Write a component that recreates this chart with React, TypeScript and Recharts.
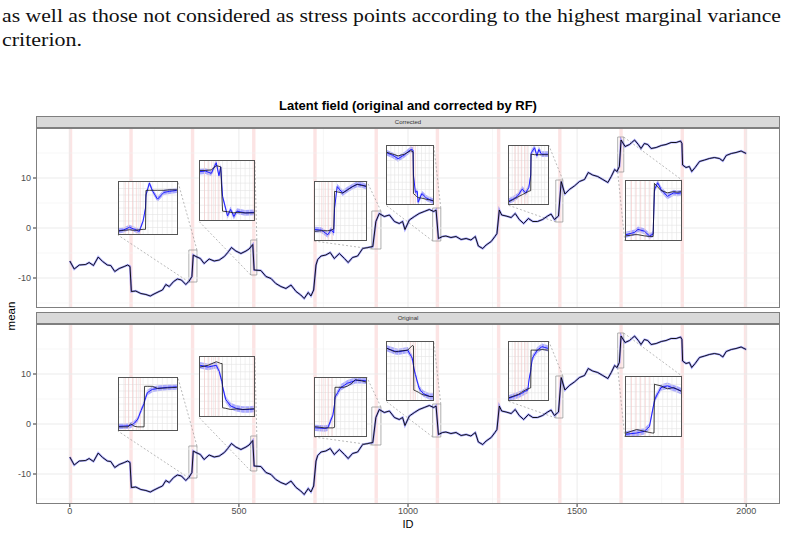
import React from 'react';
import {
  ComposedChart,
  Line,
  Area,
  XAxis,
  YAxis,
  ReferenceLine,
  ReferenceArea,
} from 'recharts';

// main latent field (same curve in both facets)
const ids = [
  0, 13, 28, 47, 57, 70, 84, 97, 111, 121,
  133, 146, 161, 171, 178, 182, 195, 210, 225, 238,
  249, 264, 274, 284, 294, 307, 318, 330, 343, 353,
  361, 365, 373, 386, 397, 412, 427, 442, 457, 467,
  478, 491, 506, 521, 530, 541, 545, 565, 580, 595,
  609, 624, 639, 654, 669, 683, 693, 705, 713, 721,
  728, 733, 743, 757, 770, 782, 797, 812, 823, 836,
  851, 866, 881, 896, 905, 915, 930, 945, 960, 974,
  984, 991, 1004, 1019, 1033, 1048, 1063, 1076, 1083, 1090,
  1102, 1112, 1127, 1142, 1157, 1172, 1186, 1199, 1208, 1221,
  1231, 1246, 1257, 1263, 1270, 1277, 1290, 1305, 1317, 1329,
  1342, 1356, 1369, 1383, 1398, 1413, 1423, 1433, 1445, 1453,
  1464, 1477, 1492, 1507, 1522, 1533, 1546, 1561, 1576, 1591,
  1601, 1611, 1618, 1625, 1630, 1642, 1655, 1670, 1681, 1689,
  1699, 1709, 1719, 1734, 1749, 1763, 1778, 1793, 1806, 1810,
  1812, 1822, 1832, 1839, 1849, 1862, 1877, 1891, 1906, 1921,
  1931, 1941, 1956, 1970, 1985, 2000,
];
const means = [
  -6.6, -8.2, -7.4, -7.3, -6.9, -7.5, -5.8, -6.7, -7.4, -7.5,
  -8.7, -8.1, -7.7, -7.4, -7.7, -12.7, -12.6, -13.1, -13.3, -13.6,
  -13.2, -12.7, -12.4, -11.3, -11.7, -10.7, -10.2, -10.4, -11.3, -10.6,
  -9.7, -5.4, -5.7, -6.1, -7.1, -6.2, -6.6, -6.4, -5.7, -4.9,
  -3.9, -4.6, -5.1, -4.6, -4.2, -3.3, -8.4, -8.5, -9.7, -10.1,
  -11.1, -11.7, -12.1, -11.4, -12.7, -13.4, -14.1, -12.9, -13.6, -12.4,
  -7.4, -6.3, -5.6, -5.4, -4.9, -6.1, -5.1, -6.1, -6.9, -5.9,
  -5.6, -4.1, -3.9, -3.7, 1.3, 2.9, 2.3, 2.6, 1.3, 0.9,
  1.3, -0.3, 1.6, 2.3, 2.9, 3.3, 3.7, 3.3, 3.6, -2.1,
  -1.7, -1.6, -1.9, -1.7, -2.3, -2.1, -2.4, -1.7, -3.6, -4.1,
  -3.4, -2.7, -1.7, -1.1, 3.6, 2.6, 2.4, 2.1, 2.9, 1.7,
  0.9, 1.9, 1.3, 1.3, 1.7, 2.4, 2.8, 1.7, 2.4, 9.3,
  6.8, 7.7, 8.4, 9.3, 9.7, 11.1, 10.6, 10.3, 9.7, 9.1,
  10.3, 11.7, 11.3, 12.3, 17.6, 16.3, 16.7, 17.6, 16.7, 15.9,
  16.9, 16.7, 15.9, 16.1, 16.5, 16.7, 17.1, 17.1, 17.4, 16.9,
  12.6, 12.1, 12.3, 11.3, 12.1, 13.3, 13.6, 13.9, 14.1, 13.9,
  13.4, 14.5, 14.9, 15.1, 15.4, 14.9,
];

const stressPoints = [2, 181, 363, 544, 725, 906, 1087, 1268, 1449, 1630, 1811, 1998];
const xTicks = [0, 500, 1000, 1500, 2000];
const xMinor = [250, 750, 1250, 1750];
const yTicks = [-10, 0, 10];
const yMinor = [-15, -5, 5, 15];
const facets = ['Corrected', 'Original'];

// magnified windows [idFrom, idTo, meanLow, meanHigh] and where their insets sit
const zoomRects = [
  [352, 376, -10.8, -4.4],
  [535, 553, -9.4, -2.4],
  [893, 920, -4.2, 3.4],
  [1073, 1097, -2.6, 4.0],
  [1437, 1458, 1.2, 9.6],
  [1620, 1638, 11.2, 18.2],
];
const insetBoxes = [
  [142, 319, -1.4, 9.4],
  [381, 547, 1.4, 13.6],
  [721, 878, -2.6, 9.4],
  [934, 1076, 4.6, 16.6],
  [1295, 1416, 4.6, 16.6],
  [1641, 1810, -2.6, 9.6],
];

// inset curves on the inset's own 0-12 (x) by 0-10 (y) scale
const corrX = [
  [0, 1, 2.2, 3.2, 4.2, 5.0, 5.5, 5.6, 6.3, 7.0, 8.0, 9.3, 10.5, 12],
  [0, 1.2, 2.5, 3.6, 4.2, 4.6, 5.0, 6.1, 6.8, 7.5, 8.2, 10, 12],
  [0, 1.5, 3, 3.8, 4.4, 4.6, 5.2, 6.5, 7.6, 8.8, 9.9, 11, 12],
  [0, 1.5, 2.9, 4.6, 6.2, 6.8, 6.9, 7.4, 7.9, 8.1, 9.1, 10.3, 12],
  [0, 1.4, 2.7, 4.1, 5.1, 6.1, 6.7, 6.8, 7.9, 8.6, 9.2, 10, 12],
  [0, 1.9, 2.6, 4.0, 5.1, 5.9, 6.2, 6.9, 7.6, 9.0, 10.4, 11.2, 12],
];
const corrBlack = [
  [0.6, 0.7, 0.8, 0.7, 0.8, 0.9, 0.9, 8.4, 8.4, 8.4, 8.4, 8.4, 8.5, 8.5],
  [8.4, 8.4, 8.5, 9.2, 9.1, 9.0, 1.5, 1.4, 1.3, 1.2, 1.3, 1.2, 1.2],
  [1.5, 1.6, 1.6, 1.7, 1.9, 8.4, 8.3, 8.1, 8.6, 9.2, 9.6, 9.4, 9.3],
  [8.9, 8.6, 8.3, 8.6, 9.2, 9.0, 1.8, 1.5, 1.2, 1.1, 1.0, 0.8, 0.6],
  [0.4, 0.8, 1.2, 1.6, 1.9, 2.2, 2.3, 8.6, 8.5, 8.5, 8.5, 8.5, 8.5],
  [0.7, 0.9, 0.9, 0.7, 0.6, 0.6, 9.6, 9.0, 8.4, 8.0, 8.2, 8.1, 8.2],
];
const corrBlue = [
  [0.6, 0.8, 1.3, 0.9, 0.5, 2.5, 5.0, 7.5, 9.8, 8.2, 6.7, 8.0, 8.2, 8.4],
  [8.2, 8.3, 7.9, 9.7, 7.5, 9.0, 4.0, 0.7, 1.8, 0.6, 1.5, 1.2, 1.3],
  [1.8, 1.7, 0.9, 1.8, 1.2, 5.5, 9.2, 8.1, 8.7, 9.2, 9.6, 9.5, 9.2],
  [8.8, 8.4, 7.8, 8.5, 9.4, 9.3, 5.0, 2.0, 2.2, 0.3, 1.8, 1.0, 0.5],
  [0.5, 0.9, 1.4, 2.6, 1.9, 2.8, 5.0, 8.8, 9.7, 8.3, 9.4, 8.6, 8.6],
  [0.9, 1.3, 1.8, 1.5, 0.7, 1.0, 8.5, 9.7, 8.6, 7.4, 8.0, 7.9, 8.0],
];
const origX = [
  [0, 1.9, 2.4, 3.2, 3.9, 4.6, 5.2, 5.3, 5.9, 6.9, 8.0, 10, 12],
  [0, 1.8, 3.6, 4.3, 4.6, 4.9, 5.0, 5.7, 6.8, 8, 9.5, 11, 12],
  [0, 2.3, 3.0, 4.2, 4.6, 4.7, 6.1, 6.8, 7.6, 8.5, 9.5, 11, 12],
  [0, 2.1, 2.9, 5.4, 6.6, 6.9, 7.0, 7.4, 8.3, 8.7, 9.5, 11.2, 12],
  [0, 1.5, 3.0, 3.8, 5.0, 5.8, 6.2, 6.7, 6.8, 7.2, 8.7, 10.2, 12],
  [0, 2.3, 4.0, 5.1, 5.8, 6.1, 6.2, 6.5, 7.6, 9.0, 10.4, 11.2, 12],
];
const origBlack = [
  [0.6, 0.6, 1.2, 0.7, 0.6, 0.6, 0.6, 8.4, 8.4, 8.4, 8.0, 8.1, 8.2],
  [8.3, 8.6, 9.2, 9.0, 8.9, 8.9, 1.4, 1.3, 1.1, 1.2, 1.1, 1.2, 1.2],
  [1.6, 1.4, 1.4, 1.4, 1.5, 8.4, 8.4, 8.4, 8.6, 9.0, 9.7, 9.5, 9.3],
  [8.9, 8.3, 8.4, 8.6, 9.4, 9.3, 1.7, 1.6, 1.3, 1.1, 0.9, 0.6, 0.6],
  [0.4, 0.7, 1.0, 1.3, 1.7, 1.9, 2.0, 2.1, 8.6, 8.6, 8.6, 8.7, 8.6],
  [0.5, 1.1, 0.8, 0.6, 0.5, 0.5, 8.8, 8.7, 8.5, 8.0, 8.2, 7.9, 7.6],
];
const origBlue = [
  [0.7, 0.8, 0.9, 1.3, 2.1, 3.8, 5.1, 5.6, 7.2, 7.8, 8.0, 8.2, 8.3],
  [8.6, 8.3, 8.6, 7.5, 6.5, 5.8, 5.0, 2.8, 1.7, 1.3, 1.1, 1.1, 1.2],
  [1.4, 1.3, 1.4, 3.6, 5.5, 6.7, 8.4, 8.7, 9.1, 9.3, 9.6, 9.6, 9.5],
  [8.9, 8.4, 8.3, 8.6, 7.2, 6.0, 5.5, 4.4, 2.2, 1.7, 1.1, 0.6, 0.6],
  [0.3, 0.6, 0.9, 1.1, 1.5, 1.7, 3.6, 5.0, 5.6, 7.2, 8.6, 9.2, 8.9],
  [0.3, 0.5, 0.8, 1.6, 4.4, 5.6, 6.0, 6.6, 8.2, 8.5, 8.1, 7.9, 7.6],
];
const insetPink = [
  [1.3, 2.0, 2.8, 3.6, 4.4],
  [1.0, 1.8, 2.6, 3.4, 4.2, 11.8],
  [1.6, 2.4, 3.2, 4.0],
  [6.2, 6.8, 7.4],
  [1.8, 2.8, 3.8, 4.8, 5.6],
  [1.2, 2.2, 3.2, 4.2, 5.2],
];
const insetGridX = [1, 2, 3, 4, 5, 6, 7, 8, 9, 10, 11];
const insetGridY = [1.25, 2.5, 3.75, 5, 6.25, 7.5, 8.75];

const X_DOMAIN = [-100, 2100];
const Y_DOMAIN = [-16, 20];
const PLOT_LEFT = 36;
const PLOT_RIGHT = 780;
const PLOT_H = 180;
const PANEL_TOPS = [128, 324];
const FONT = '"Liberation Sans", Arial, sans-serif';

const mainData = ids.map((id, i) => ({ id, mean: means[i] }));

const toPxX = (id: number) =>
  PLOT_LEFT + ((id - X_DOMAIN[0]) / (X_DOMAIN[1] - X_DOMAIN[0])) * (PLOT_RIGHT - PLOT_LEFT);
const toPxY = (v: number, top: number) =>
  top + ((Y_DOMAIN[1] - v) / (Y_DOMAIN[1] - Y_DOMAIN[0])) * PLOT_H;

function Inset({ k, panel }: { k: number; panel: number }) {
  const box = insetBoxes[k];
  const top = PANEL_TOPS[panel];
  const xs = panel === 0 ? corrX[k] : origX[k];
  const black = panel === 0 ? corrBlack[k] : origBlack[k];
  const blue = panel === 0 ? corrBlue[k] : origBlue[k];
  const half = panel === 0 ? 0.5 : 0.55;
  const data = xs.map((x, i) => ({
    x,
    black: black[i],
    blue: blue[i],
    band: [blue[i] - half, blue[i] + half],
  }));
  const left = toPxX(box[0]);
  const w = toPxX(box[1]) - left;
  const t = toPxY(box[3], top);
  const h = toPxY(box[2], top) - t;
  return (
    <div
      style={{
        position: 'absolute',
        left,
        top: t,
        width: w,
        height: h,
        background: '#fff',
        border: '1px solid #555',
        boxSizing: 'border-box',
      }}
    >
      <ComposedChart width={w - 2} height={h - 2} data={data} margin={{ top: 0, right: 0, bottom: 0, left: 0 }}>
        <XAxis type="number" dataKey="x" domain={[0, 12]} hide />
        <YAxis type="number" domain={[0, 10]} hide allowDataOverflow />
        {insetGridX.map((g) => (
          <ReferenceLine key={'gx' + g} x={g} stroke="#E4E4E4" strokeWidth={0.6} />
        ))}
        {insetGridY.map((g) => (
          <ReferenceLine key={'gy' + g} y={g} stroke="#E4E4E4" strokeWidth={0.6} />
        ))}
        {insetPink[k].map((p) => (
          <ReferenceLine key={'p' + p} x={p} stroke="#F4C4C4" strokeWidth={0.6} />
        ))}
        <Area type="linear" dataKey="band" stroke="none" fill="#6464FF" fillOpacity={0.55} isAnimationActive={false} />
        <Line type="linear" dataKey="blue" stroke="#1E1EFF" strokeWidth={1} dot={false} isAnimationActive={false} />
        <Line type="linear" dataKey="black" stroke="#111" strokeWidth={0.8} dot={false} isAnimationActive={false} />
      </ComposedChart>
    </div>
  );
}

function Panel({ panel }: { panel: number }) {
  const showX = panel === 1;
  const top = PANEL_TOPS[panel];
  return (
    <div style={{ position: 'absolute', left: 0, top }}>
      <ComposedChart
        width={788}
        height={PLOT_H + (showX ? 24 : 0)}
        data={mainData}
        margin={{ top: 0, right: 8, bottom: 0, left: 0 }}
      >
        <XAxis
          type="number"
          dataKey="id"
          domain={X_DOMAIN}
          ticks={xTicks}
          hide={!showX}
          height={24}
          axisLine={false}
          tickSize={3}
          tickMargin={1}
          tickLine={{ stroke: '#333' }}
          tick={{ fontSize: 9, fill: '#4D4D4D', fontFamily: FONT }}
          allowDataOverflow
        />
        <YAxis
          type="number"
          domain={Y_DOMAIN}
          ticks={yTicks}
          width={36}
          axisLine={false}
          tickSize={3}
          tickMargin={2}
          tickLine={{ stroke: '#333' }}
          tick={{ fontSize: 9, fill: '#4D4D4D', fontFamily: FONT }}
          allowDataOverflow
        />
        {xMinor.map((v) => (
          <ReferenceLine key={'xm' + v} x={v} stroke="#F2F2F2" strokeWidth={0.6} />
        ))}
        {yMinor.map((v) => (
          <ReferenceLine key={'ym' + v} y={v} stroke="#F2F2F2" strokeWidth={0.6} />
        ))}
        {xTicks.map((v) => (
          <ReferenceLine key={'xM' + v} x={v} stroke="#EBEBEB" strokeWidth={1} />
        ))}
        {yTicks.map((v) => (
          <ReferenceLine key={'yM' + v} y={v} stroke="#EBEBEB" strokeWidth={1} />
        ))}
        {stressPoints.map((s) => (
          <ReferenceArea key={'s' + s} x1={s - 5} x2={s + 5} fill="#F9C9C9" fillOpacity={0.5} stroke="none" />
        ))}
        <Line type="linear" dataKey="mean" stroke="#5050FF" strokeOpacity={0.5} strokeWidth={2.2} dot={false} isAnimationActive={false} />
        <Line type="linear" dataKey="mean" stroke="#000" strokeWidth={0.9} dot={false} isAnimationActive={false} />
        {zoomRects.map((r, k) => (
          <ReferenceArea
            key={'r' + k}
            x1={r[0]}
            x2={r[1]}
            y1={r[2]}
            y2={r[3]}
            fill="none"
            stroke="#8C8C8C"
            strokeWidth={0.7}
          />
        ))}
        {zoomRects.map((r, k) => (
          <ReferenceLine
            key={'ctr' + k}
            segment={[
              { x: r[1], y: r[3] },
              { x: insetBoxes[k][1], y: insetBoxes[k][3] },
            ]}
            stroke="#8C8C8C"
            strokeWidth={0.6}
            strokeDasharray="2 2"
          />
        ))}
        {zoomRects.map((r, k) => (
          <ReferenceLine
            key={'cbl' + k}
            segment={[
              { x: r[0], y: r[2] },
              { x: insetBoxes[k][0], y: insetBoxes[k][2] },
            ]}
            stroke="#8C8C8C"
            strokeWidth={0.6}
            strokeDasharray="2 2"
          />
        ))}
      </ComposedChart>
      <div
        style={{
          position: 'absolute',
          left: PLOT_LEFT,
          top: 0,
          width: PLOT_RIGHT - PLOT_LEFT,
          height: PLOT_H,
          border: '1px solid #7F7F7F',
          boxSizing: 'border-box',
          pointerEvents: 'none',
        }}
      />
      <div
        style={{
          position: 'absolute',
          left: PLOT_LEFT,
          top: -12,
          width: PLOT_RIGHT - PLOT_LEFT,
          height: 12,
          background: '#D9D9D9',
          border: '1px solid #7F7F7F',
          boxSizing: 'border-box',
          fontSize: 6,
          lineHeight: '10px',
          textAlign: 'center',
          color: '#333',
          fontFamily: FONT,
        }}
      >
        {facets[panel]}
      </div>
    </div>
  );
}

export default function App() {
  return (
    <div
      style={{
        position: 'absolute',
        left: 0,
        top: 0,
        width: 788,
        height: 535,
        background: '#fff',
        overflow: 'hidden',
        fontFamily: FONT,
      }}
    >
      <svg width={788} height={535} style={{ position: 'absolute', left: 0, top: 0 }}>
        <text
          x={2}
          y={22}
          fontFamily='"Liberation Serif", "DejaVu Serif", serif'
          fontSize={19.5}
          textLength={779}
          lengthAdjust="spacingAndGlyphs"
          fill="#111"
        >
          as well as those not considered as stress points according to the highest marginal variance
        </text>
        <text
          x={2}
          y={46}
          fontFamily='"Liberation Serif", "DejaVu Serif", serif'
          fontSize={19.5}
          textLength={80}
          lengthAdjust="spacingAndGlyphs"
          fill="#111"
        >
          criterion.
        </text>
        <text x={408} y={110} textAnchor="middle" fontFamily={FONT} fontWeight="bold" fontSize={13} fill="#000">
          Latent field (original and corrected by RF)
        </text>
        <text
          x={15}
          y={316}
          transform="rotate(-90, 15, 316)"
          textAnchor="middle"
          fontFamily={FONT}
          fontSize={11.5}
          fill="#000"
        >
          mean
        </text>
        <text x={408} y={528} textAnchor="middle" fontFamily={FONT} fontSize={11} fill="#000">
          ID
        </text>
      </svg>
      <Panel panel={0} />
      <Panel panel={1} />
      {insetBoxes.map((_, k) => (
        <Inset key={'i0' + k} k={k} panel={0} />
      ))}
      {insetBoxes.map((_, k) => (
        <Inset key={'i1' + k} k={k} panel={1} />
      ))}
    </div>
  );
}
